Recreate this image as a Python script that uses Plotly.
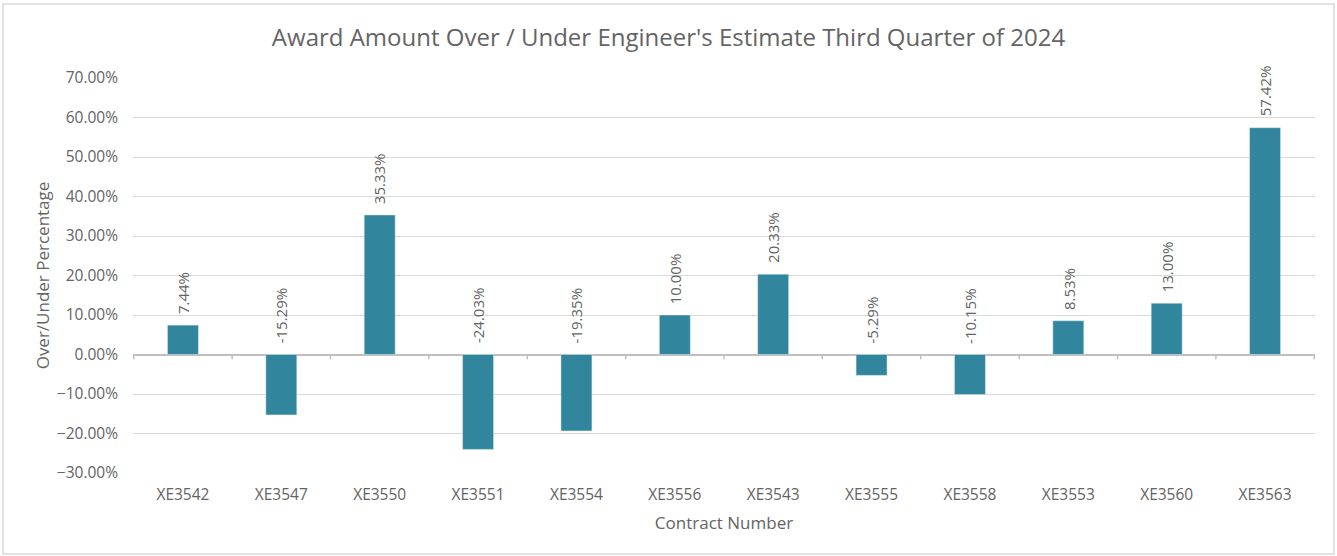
import plotly.graph_objects as go

contracts = ["XE3542", "XE3547", "XE3550", "XE3551", "XE3554", "XE3556",
             "XE3543", "XE3555", "XE3558", "XE3553", "XE3560", "XE3563"]
pct = [0.0744, -0.1529, 0.3533, -0.2403, -0.1935, 0.1000,
       0.2033, -0.0529, -0.1015, 0.0853, 0.1300, 0.5742]
tick_vals = [-0.3, -0.2, -0.1, 0.0, 0.1, 0.2, 0.3, 0.4, 0.5, 0.6, 0.7]

W, H = 1337, 556
ml, mr, mt, mb = 133, 22, 78, 83
grey = "#646464"
font = "Open Sans, Noto Sans, sans-serif"

fig = go.Figure()
fig.add_trace(go.Bar(x=contracts, y=pct, marker_color="#31859C", width=0.315,
                     hoverinfo="x+y"))

for c, v in zip(contracts, pct):
    fig.add_annotation(x=c, y=max(v, 0), text=f"{v*100:.2f}%", textangle=-90,
                       showarrow=False, xanchor="center", yanchor="bottom",
                       yshift=9, font=dict(size=15, color=grey, family=font))

pw = W - ml - mr
ph = H - mt - mb
fig.add_shape(type="rect", xref="paper", yref="paper",
              x0=(3 - ml) / pw, x1=(W - 3 - ml) / pw,
              y0=(2 - mb) / ph, y1=(H - 4 - mb) / ph,
              line=dict(color="#D9D9D9", width=1.5), fillcolor="rgba(0,0,0,0)",
              layer="below")

fig.update_layout(
    width=W, height=H,
    margin=dict(l=ml, r=mr, t=mt, b=mb),
    paper_bgcolor="white", plot_bgcolor="white",
    showlegend=False,
    title=dict(text="Award Amount Over / Under Engineer's Estimate Third Quarter of 2024",
               x=0.5, xref="container", xanchor="center", y=1 - 38 / H, yanchor="middle",
               font=dict(size=24, color=grey, family=font)),
    font=dict(family=font, color=grey),
)
fig.update_yaxes(range=[-0.3, 0.7], tickvals=tick_vals, tickformat=".2%",
                 showgrid=True, gridcolor="#D9D9D9", gridwidth=1,
                 zeroline=True, zerolinecolor="#BFBFBF", zerolinewidth=1.5,
                 tickfont=dict(size=15.5, color=grey), ticks="", ticklen=0,
                 ticklabelstandoff=14,
                 title=dict(text="Over/Under Percentage", font=dict(size=17, color=grey), standoff=2),
                 showline=False)
fig.update_xaxes(showgrid=False, showline=False, ticks="", tickfont=dict(size=15.5, color=grey),
                 ticklabelstandoff=10,
                 title=dict(text="Contract Number", font=dict(size=17, color=grey), standoff=13))

# category boundary tick marks on the zero line
for i in range(len(contracts) + 1):
    fig.add_shape(type="line", xref="x", yref="y", x0=i - 0.5, x1=i - 0.5,
                  y0=0, y1=-0.012, line=dict(color="#BFBFBF", width=1.5))

fig.write_html("out.html", config={"displayModeBar": False},
               post_script="document.body.style.margin='0';")
